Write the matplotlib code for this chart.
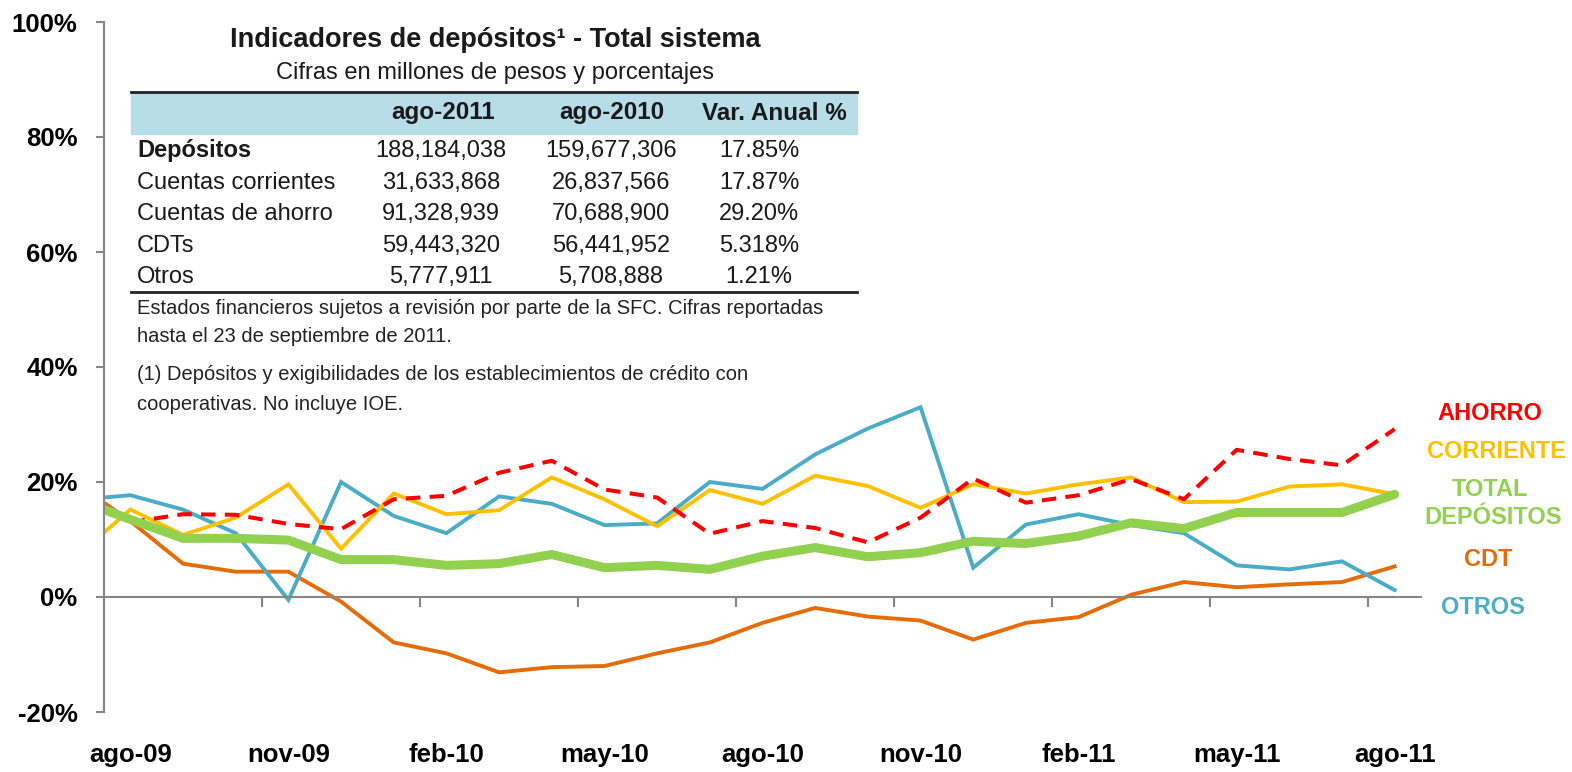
import numpy as np
import matplotlib
matplotlib.use("Agg")
import matplotlib.pyplot as plt
from matplotlib import font_manager
from matplotlib.transforms import blended_transform_factory

# fonts: narrow Arial look-alike if there is one
names = {f.name for f in font_manager.fontManager.ttflist}
narrow = 'Liberation Sans Narrow' if 'Liberation Sans Narrow' in names else 'Liberation Sans'
plt.rcParams['font.family'] = ['Liberation Sans', 'DejaVu Sans']

# data (% var. anual), first point jul-09 lies left of the axis and is clipped
months = ['jul-09', 'ago-09', 'sep-09', 'oct-09', 'nov-09', 'dic-09', 'ene-10', 'feb-10', 'mar-10',
          'abr-10', 'may-10', 'jun-10', 'jul-10', 'ago-10', 'sep-10', 'oct-10', 'nov-10', 'dic-10',
          'ene-11', 'feb-11', 'mar-11', 'abr-11', 'may-11', 'jun-11', 'jul-11', 'ago-11']
tick_labels = ['ago-09', 'nov-09', 'feb-10', 'may-10', 'ago-10', 'nov-10', 'feb-11', 'may-11', 'ago-11']

ahorro = [np.nan, 13.0, 14.4, 14.3, 12.7, 11.8, 17.0, 17.6, 21.6, 23.7, 18.7, 17.3, 11.0, 13.2,
          12.0, 9.5, 13.8, 20.6, 16.4, 17.7, 20.5, 17.0, 25.6, 24.0, 22.9, 29.20]
corriente = [7.2, 15.2, 10.8, 13.8, 19.6, 8.4, 18.0, 14.4, 15.1, 20.8, 17.0, 12.3, 18.6, 16.2,
             21.1, 19.3, 15.5, 19.6, 18.0, 19.6, 20.8, 16.5, 16.6, 19.2, 19.6, 17.87]
total = [16.9, 13.5, 10.2, 10.2, 9.9, 6.5, 6.5, 5.5, 5.8, 7.4, 5.1, 5.5, 4.8, 7.1,
         8.6, 7.0, 7.7, 9.7, 9.3, 10.6, 12.9, 11.9, 14.7, 14.7, 14.7, 17.85]
cdt = [19.6, 13.2, 5.8, 4.4, 4.4, -0.8, -7.9, -9.8, -13.1, -12.2, -12.0, -9.8, -7.9, -4.5,
       -1.9, -3.4, -4.1, -7.4, -4.5, -3.5, 0.4, 2.6, 1.7, 2.2, 2.6, 5.318]
otros = [16.9, 17.7, 15.2, 11.1, -0.5, 20.0, 14.1, 11.1, 17.5, 16.2, 12.5, 12.8, 20.0, 18.8,
         24.8, 29.3, 33.0, 5.1, 12.6, 14.4, 12.5, 11.1, 5.5, 4.8, 6.2, 1.21]

# table
col_heads = ['ago-2011', 'ago-2010', 'Var. Anual %']
row_names = ['Depósitos', 'Cuentas corrientes', 'Cuentas de ahorro', 'CDTs', 'Otros']
val_2011 = ['188,184,038', '31,633,868', '91,328,939', '59,443,320', '5,777,911']
val_2010 = ['159,677,306', '26,837,566', '70,688,900', '56,441,952', '5,708,888']
var_anual = ['17.85%', '17.87%', '29.20%', '5.318%', '1.21%']

c_red = '#FF0000'
c_yel = '#FFC000'
c_grn = '#92D050'
c_org = '#E46C0A'
c_blu = '#4BACC6'
c_axis = '#868686'
c_txt = '#1a1a1a'

W, H = 1572, 772
fig = plt.figure(figsize=(W / 100, H / 100), dpi=100)
ax = fig.add_axes([104 / W, 1 - 712 / H, (1421 - 104) / W, (712 - 22) / H])

x = np.arange(len(months)) - 1
ax.plot(x, cdt, color=c_org, lw=2.8, solid_joinstyle='miter')
ax.plot(x, otros, color=c_blu, lw=2.8, solid_joinstyle='miter')
ax.plot(x, corriente, color=c_yel, lw=2.8, solid_joinstyle='miter')
ax.plot(x, ahorro, color=c_red, lw=2.9, dashes=(3.6, 2.3))
ax.plot(x, total, color=c_grn, lw=6.5, solid_capstyle='round')

ax.set_xlim(-0.5, 24.5)
ax.set_ylim(-20, 100)

for s in ['top', 'right']:
    ax.spines[s].set_visible(False)
ax.spines['bottom'].set_position(('data', 0))
ax.spines['bottom'].set_color(c_axis)
ax.spines['left'].set_color(c_axis)
ax.spines['bottom'].set_linewidth(1.5)
ax.spines['left'].set_linewidth(1.5)

ax.set_xticks(np.arange(2.5, 24, 3))
ax.set_xticklabels([])
ax.tick_params(axis='x', direction='out', length=7, width=1.5, color=c_axis)
ax.set_yticks(np.arange(-20, 101, 20))
ax.set_yticklabels([f'{v}%' for v in range(-20, 101, 20)], fontsize=18.5, fontweight='bold')
ax.tick_params(axis='y', direction='out', length=6, width=1.5, color=c_axis, pad=13)

tr = blended_transform_factory(ax.transData, fig.transFigure)
for i, lab in enumerate(tick_labels):
    ax.text(i * 3, 1 - 755 / H, lab, transform=tr, ha='center', va='center',
            fontsize=18.5, fontweight='bold')


# series labels on the right
def ftxt(px, py, s, **kw):
    fig.text(px / W, 1 - py / H, s, **kw)


lab_kw = dict(fontsize=17, fontweight='bold', ha='center', va='center')
ftxt(1490, 413, 'AHORRO', color=c_red, **lab_kw)
ftxt(1497, 452, 'CORRIENTE', color=c_yel, **lab_kw)
ftxt(1490, 489, 'TOTAL', color=c_grn, **lab_kw)
ftxt(1493, 518, 'DEPÓSITOS', color=c_grn, **lab_kw)
ftxt(1488, 559, 'CDT', color=c_org, **lab_kw)
ftxt(1483, 608, 'OTROS', color=c_blu, **lab_kw)

# table block
ftxt(495, 40, 'Indicadores de depósitos¹ - Total sistema', fontsize=19.5, fontweight='bold',
     family=narrow, ha='center', va='center', color=c_txt)
ftxt(495, 73, 'Cifras en millones de pesos y porcentajes', fontsize=17, family=narrow,
     ha='center', va='center', color=c_txt)
fig.patches.append(plt.Rectangle((131 / W, 1 - 134 / H), (857 - 131) / W, 41 / H,
                                 transform=fig.transFigure, color='#B7DEE8', zorder=0))
fig.lines.append(plt.Line2D([131 / W, 857 / W], [1 - 92 / H] * 2, transform=fig.transFigure,
                            color='#222222', lw=2))
fig.lines.append(plt.Line2D([131 / W, 857 / W], [1 - 292 / H] * 2, transform=fig.transFigure,
                            color='#222222', lw=2))

col_x = [441, 611, 759]
head_x = [443, 612, 774]
for cx, h in zip(head_x, col_heads):
    ftxt(cx, 113, h, fontsize=17.5, fontweight='bold', family=narrow, ha='center', va='center',
         color=c_txt)
row_y = [151, 183, 214, 246, 277]
for k, ry in enumerate(row_y):
    ftxt(137, ry, row_names[k], fontsize=17, family=narrow, ha='left', va='center',
         fontweight='bold' if k == 0 else 'normal', color=c_txt)
    ftxt(col_x[0], ry, val_2011[k], fontsize=17, family=narrow, ha='center', va='center', color=c_txt)
    ftxt(col_x[1], ry, val_2010[k], fontsize=17, family=narrow, ha='center', va='center', color=c_txt)
    ftxt(col_x[2], ry, var_anual[k], fontsize=17, family=narrow, ha='center', va='center', color=c_txt)

notes = ['Estados financieros sujetos a revisión por parte de la SFC. Cifras reportadas',
         'hasta el 23 de septiembre de 2011.',
         '(1) Depósitos y exigibilidades de los establecimientos de crédito con',
         'cooperativas. No incluye IOE.']
for ny, n in zip([309, 336, 375, 404], notes):
    ftxt(137, ny, n, fontsize=14.5, family=narrow, ha='left', va='center', color='#222222')

fig.savefig('out.png', dpi=100)
